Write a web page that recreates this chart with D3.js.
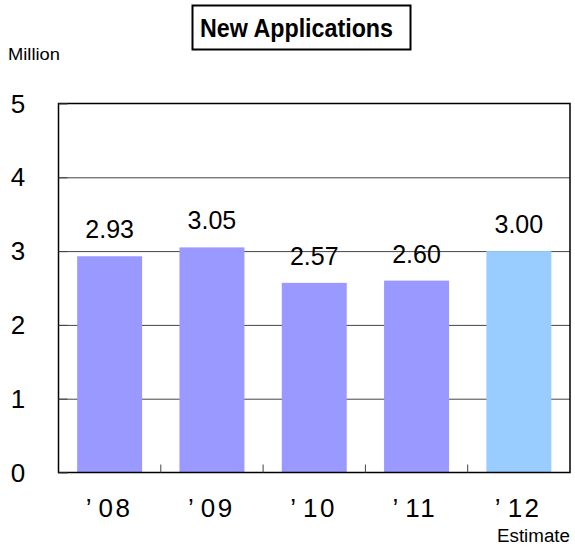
<!DOCTYPE html>
<html><head><meta charset="utf-8">
<script src="https://cdn.jsdelivr.net/npm/d3@7"></script>
<style>body{margin:0;background:#fff}svg{display:block}</style>
</head><body>
<svg id="c" width="575" height="549"></svg>
<script>
const categories = ["’08","’09","’10","’11","’12"];
const values = [2.93, 3.05, 2.57, 2.60, 3.00];
const valueLabels = ["2.93","3.05","2.57","2.60","3.00"];
const estimateFlags = [false,false,false,false,true];
const yTicks = [0,1,2,3,4,5];
const titleText = "New Applications";
const unitText = "Million";
const noteText = "Estimate";

const svg = d3.select("#c");
const font = "'Liberation Sans', Arial, sans-serif";
const L = 58.5, R = 570, T = 103.5, B = 472.5;
const x = d3.scaleBand().domain(categories).range([L, R]).paddingInner(0.365).paddingOuter(0.1825);
const y = d3.scaleLinear().domain([0,5]).range([B, T]);

// gridlines
svg.append("g").selectAll("line").data(yTicks.filter(d=>d>0&&d<5)).join("line")
  .attr("x1", L).attr("x2", R).attr("y1", d=>y(d)+0.5).attr("y2", d=>y(d)+0.5)
  .attr("stroke", "#444").attr("stroke-width", 1);

// bars
svg.append("g").selectAll("rect").data(values).join("rect")
  .attr("x", (d,i)=>x(categories[i])).attr("width", x.bandwidth())
  .attr("y", d=>y(d)).attr("height", d=>B - y(d))
  .attr("fill", (d,i)=>estimateFlags[i] ? "#99ccff" : "#9999ff");

// frame
svg.append("rect").attr("x", L).attr("y", T).attr("width", R-L).attr("height", B-T)
  .attr("fill","none").attr("stroke","#000").attr("stroke-width",1.5);

// y axis ticks (inside)
const yAxis = d3.axisRight(y).tickValues(yTicks).tickSize(9).tickFormat("");
const ya = svg.append("g").attr("transform", `translate(${L},0)`).call(yAxis);
ya.select(".domain").remove();
ya.selectAll("line").attr("stroke","#444");

// x boundary ticks
const bounds = categories.slice(1).map(c => x(c) - x.step()*x.paddingInner()/2);
svg.append("g").selectAll("line").data(bounds).join("line")
  .attr("x1", d=>d).attr("x2", d=>d).attr("y1", B).attr("y2", B-8)
  .attr("stroke","#444").attr("stroke-width",1);

// y labels
svg.append("g").selectAll("text").data(yTicks).join("text")
  .attr("x", 18).attr("y", d=>y(d)+9).attr("text-anchor","middle")
  .attr("font-family", font).attr("font-size", 26).attr("fill","#000").text(d=>d);

// x labels: apostrophe and digits
const xl = svg.append("g").selectAll("text").data(categories).join("text")
  .attr("x", d=>x(d)+x.bandwidth()/2 - 24).attr("y", 517)
  .attr("font-family", font).attr("font-size", 26).attr("fill","#000");
xl.append("tspan").text(d=>d.slice(0,1));
xl.append("tspan").attr("dx", 7).attr("letter-spacing", 2.5).text(d=>d.slice(1));

// value labels
svg.append("g").selectAll("text").data(values).join("text")
  .attr("x", (d,i)=>x(categories[i])+x.bandwidth()/2).attr("y", d=>y(d)-18)
  .attr("text-anchor","middle").attr("font-family", font).attr("font-size", 25)
  .attr("fill","#000").text((d,i)=>valueLabels[i]);

// unit
svg.append("text").attr("x", 8).attr("y", 60).attr("font-family", font)
  .attr("font-size", 17).attr("textLength", 52).attr("lengthAdjust","spacingAndGlyphs")
  .attr("fill","#000").text(unitText);
// estimate
svg.append("text").attr("x", 497).attr("y", 542)
  .attr("font-family", font).attr("font-size", 18).attr("textLength", 73).attr("lengthAdjust","spacingAndGlyphs")
  .attr("fill","#000").text(noteText);

// title
svg.append("rect").attr("x", 192.5).attr("y", 5.5).attr("width", 218).attr("height", 44)
  .attr("fill","#fff").attr("stroke","#000").attr("stroke-width",2);
svg.append("text").attr("x", 200).attr("y", 37)
  .attr("font-family", font).attr("font-weight","bold").attr("font-size", 25)
  .attr("textLength", 193).attr("lengthAdjust","spacingAndGlyphs")
  .attr("fill","#000").text(titleText);
</script>
</body></html>
